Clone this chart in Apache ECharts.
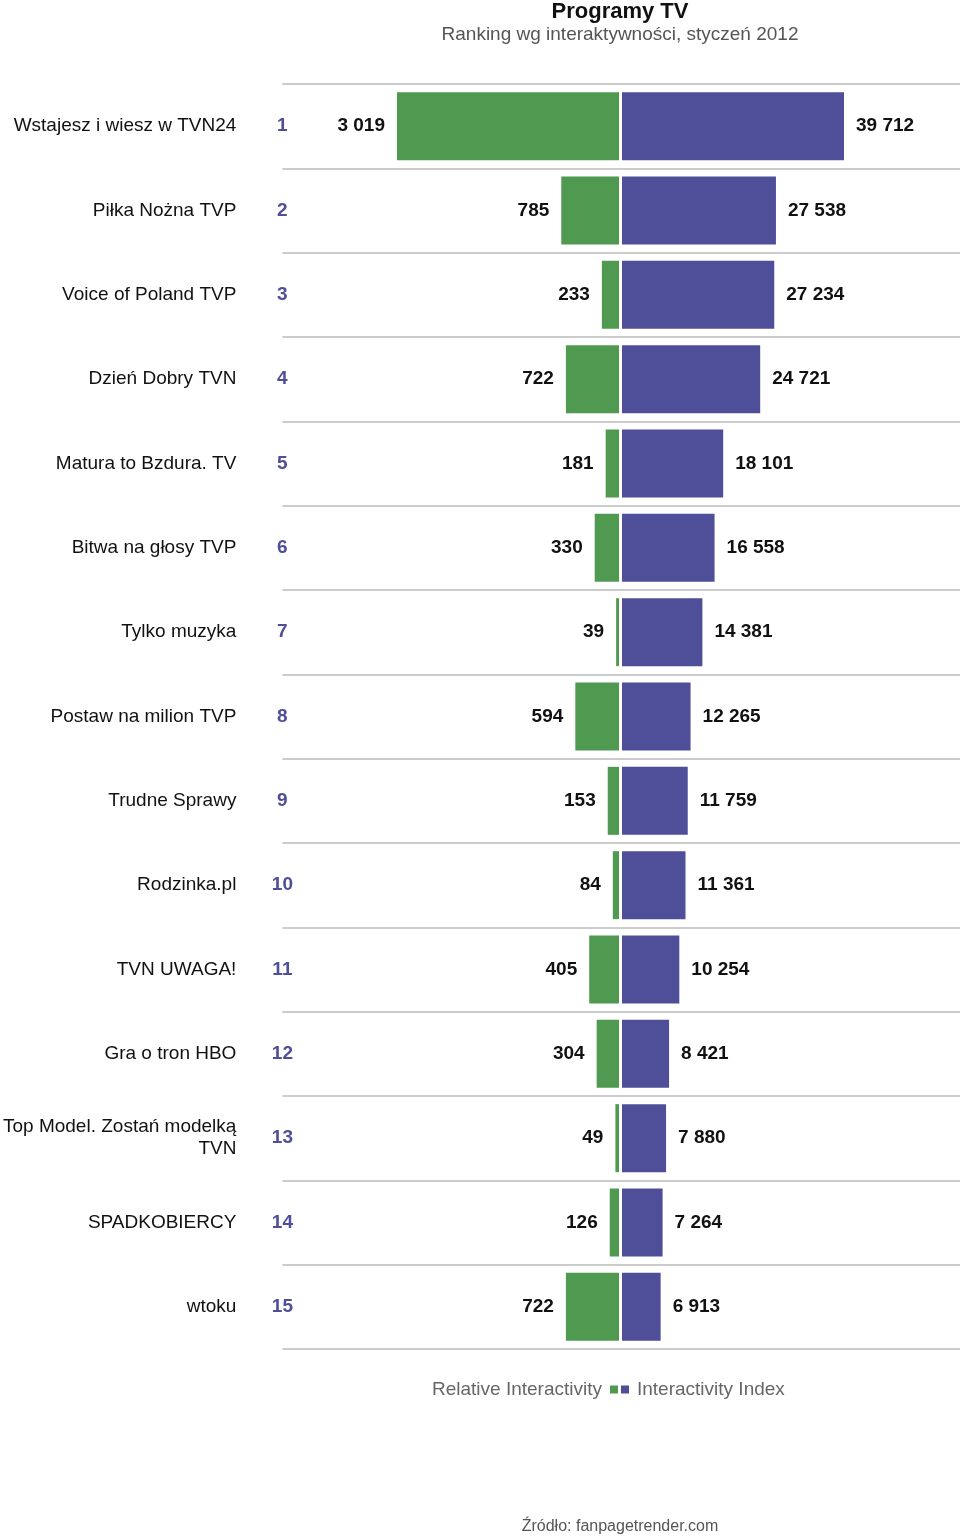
<!DOCTYPE html>
<html>
<head>
<meta charset="utf-8">
<script src="https://cdn.jsdelivr.net/npm/echarts@6/dist/echarts.min.js"></script>
<style>html,body{margin:0;padding:0;background:#fff}#c{width:960px;height:1536px}</style>
</head>
<body>
<div id="c"></div>
<script>
const categories = ['Wstajesz i wiesz w TVN24','Piłka Nożna TVP','Voice of Poland TVP','Dzień Dobry TVN','Matura to Bzdura. TV','Bitwa na głosy TVP','Tylko muzyka','Postaw na milion TVP','Trudne Sprawy','Rodzinka.pl','TVN UWAGA!','Gra o tron HBO','Top Model. Zostań modelką\nTVN','SPADKOBIERCY','wtoku'];
const ranks = ['1','2','3','4','5','6','7','8','9','10','11','12','13','14','15'];
const relativeInteractivity = [3019,785,233,722,181,330,39,594,153,84,405,304,49,126,722];
const interactivityIndex = [39712,27538,27234,24721,18101,16558,14381,12265,11759,11361,10254,8421,7880,7264,6913];

const FONT = "'Liberation Sans', Arial, sans-serif";
const GREEN = '#4f9a50', PURPLE = '#4f4e98';
const fmt = v => String(v).replace(/\B(?=(\d{3})+(?!\d))/g, ' ');
const TOP = 84, H = 1265;

const chart = echarts.init(document.getElementById('c'));
chart.setOption({
  animation: false,
  textStyle: { fontFamily: FONT },
  title: [
    { text: 'Programy TV', subtext: 'Ranking wg interaktywności, styczeń 2012', left: 615, top: -4, textAlign: 'center',
      textStyle: { fontFamily: FONT, fontSize: 22, fontWeight: 'bold', color: '#111' },
      subtextStyle: { fontFamily: FONT, fontSize: 19, color: '#555' }, itemGap: 2 },
    { text: 'Źródło: fanpagetrender.com', left: 615, top: 1514, textAlign: 'center',
      textStyle: { fontFamily: FONT, fontSize: 16, fontWeight: 'normal', color: '#555' } }
  ],
  legend: [
    { data: ['Relative Interactivity'], align: 'right', right: 342, top: 1380, padding: 0, icon: 'rect', itemWidth: 8, itemHeight: 8,
      textStyle: { fontFamily: FONT, fontSize: 19, color: '#666', padding: [0, 3, 0, 0] } },
    { data: ['Interactivity Index'], align: 'left', left: 621, top: 1380, padding: 0, icon: 'rect', itemWidth: 8, itemHeight: 8,
      textStyle: { fontFamily: FONT, fontSize: 19, color: '#666', padding: [0, 0, 0, 3] } }
  ],
  grid: [
    { left: 282, right: 0, top: TOP, height: H },
    { left: 397, width: 222, top: TOP, height: H },
    { left: 622, width: 222, top: TOP, height: H }
  ],
  xAxis: [
    { gridIndex: 0, type: 'value', show: false, min: 0, max: 1 },
    { gridIndex: 1, type: 'value', show: false, min: 0, max: 3019, inverse: true },
    { gridIndex: 2, type: 'value', show: false, min: 0, max: 39712 }
  ],
  yAxis: [
    { gridIndex: 0, type: 'category', data: categories, inverse: true, position: 'left',
      axisLine: { show: false }, axisTick: { show: false },
      splitLine: { show: true, interval: 0, lineStyle: { color: '#cccccc', width: 2 } },
      axisLabel: { interval: 0, margin: 46, fontSize: 19, color: '#111', fontFamily: FONT, lineHeight: 22, align: 'right', padding: [5, 0, 0, 0] } },
    { gridIndex: 0, type: 'category', data: ranks, inverse: true, position: 'left',
      axisLine: { show: false }, axisTick: { show: false }, splitLine: { show: false },
      axisLabel: { interval: 0, margin: 0, align: 'center', fontSize: 19, fontWeight: 'bold', color: PURPLE, fontFamily: FONT, padding: [5, 0, 0, 0] } },
    { gridIndex: 1, type: 'category', data: categories, inverse: true, show: false },
    { gridIndex: 2, type: 'category', data: categories, inverse: true, show: false }
  ],
  series: [
    { name: 'Relative Interactivity', type: 'bar', xAxisIndex: 1, yAxisIndex: 2, data: relativeInteractivity,
      barWidth: 68, itemStyle: { color: GREEN },
      label: { show: true, position: 'left', distance: 12, fontSize: 19, fontWeight: 'bold', color: '#111', fontFamily: FONT,
        padding: [5, 0, 0, 0], formatter: p => fmt(p.value) } },
    { name: 'Interactivity Index', type: 'bar', xAxisIndex: 2, yAxisIndex: 3, data: interactivityIndex,
      barWidth: 68, itemStyle: { color: PURPLE },
      label: { show: true, position: 'right', distance: 12, fontSize: 19, fontWeight: 'bold', color: '#111', fontFamily: FONT,
        padding: [5, 0, 0, 0], formatter: p => fmt(p.value) } }
  ]
});
</script>
</body>
</html>
